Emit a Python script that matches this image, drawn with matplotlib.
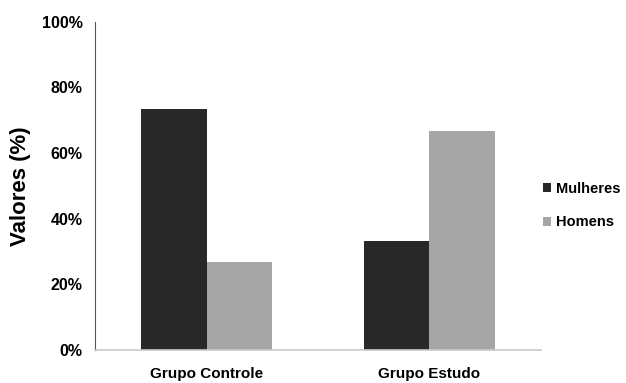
import numpy as np
import matplotlib.pyplot as plt
from matplotlib.ticker import PercentFormatter

# Data
groups = ['Grupo Controle', 'Grupo Estudo']
mulheres = [73.3, 33.3]
homens = [26.7, 66.7]
series_names = ['Mulheres', 'Homens']
colors = ['#282828', '#a6a6a6']

plt.rcParams['font.family'] = ['Liberation Sans', 'DejaVu Sans']
plt.rcParams['font.weight'] = 'bold'

fig = plt.figure(figsize=(6.26, 3.83), dpi=100)
ax = fig.add_axes([0.152, 0.086, 0.712, 0.857])

x = np.arange(len(groups)) + 0.5
w = 0.295
ax.bar(x - w / 2, mulheres, w, color=colors[0], label=series_names[0])
ax.bar(x + w / 2, homens, w, color=colors[1], label=series_names[1])

ax.set_xlim(0, 2)
ax.set_ylim(0, 100)
ax.set_yticks(np.arange(0, 101, 20))
ax.yaxis.set_major_formatter(PercentFormatter(decimals=0))
ax.set_xticks(x)
ax.set_xticklabels(groups, fontsize=11, fontweight='bold')
ax.tick_params(axis='y', length=0, labelsize=11.5, pad=9)
ax.tick_params(axis='x', length=0, pad=12)

ax.spines['top'].set_visible(False)
ax.spines['right'].set_visible(False)
ax.spines['left'].set_color('#555555')
ax.spines['left'].set_linewidth(0.8)
ax.spines['bottom'].set_color('#c8c8c8')
ax.spines['bottom'].set_linewidth(1.2)

ax.set_ylabel('Valores (%)', fontsize=16, fontweight='bold', labelpad=8)

ax.legend(loc='center left', bbox_to_anchor=(1.004, 0.44), frameon=False,
          fontsize=10.5, handlelength=0.55, handleheight=0.55,
          labelspacing=1.35, handletextpad=0.35, borderpad=0,
          borderaxespad=0)

fig.savefig('out.png', dpi=100)
